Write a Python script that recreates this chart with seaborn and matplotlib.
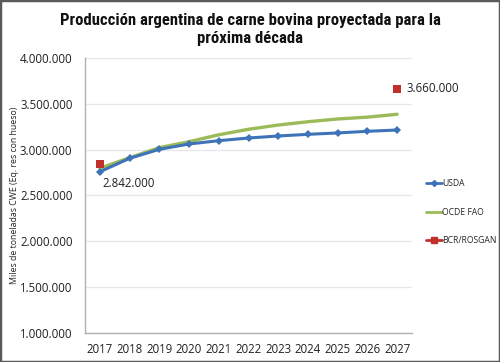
import matplotlib
matplotlib.use("Agg")
import matplotlib.pyplot as plt
from matplotlib.lines import Line2D
from matplotlib.patches import Rectangle
from matplotlib.ticker import FuncFormatter
from matplotlib import font_manager
import seaborn as sns
import pandas as pd
import numpy as np

years = [2017, 2018, 2019, 2020, 2021, 2022, 2023, 2024, 2025, 2026, 2027]
usda = [2758000, 2904000, 3002000, 3060000, 3096000, 3125000, 3147000, 3165000, 3180000, 3198000, 3212000]
ocde = [2796000, 2911000, 3020000, 3085000, 3160000, 3220000, 3266000, 3302000, 3332000, 3352000, 3383000]
bcr_years = [2017, 2027]
bcr = [2842000, 3660000]
bcr_labels = ["2.842.000", "3.660.000"]
yticks = [1000000, 1500000, 2000000, 2500000, 3000000, 3500000, 4000000]

sns.set_theme(style="white")


def pick(name, weight, want_cond):
    best = None
    for f in font_manager.fontManager.ttflist:
        if f.name != name or f.style != "normal":
            continue
        fn = f.fname.lower()
        is_cond = ("condensed" in fn) or ("narrow" in fn) or (f.stretch not in ("normal", 500))
        if is_cond != want_cond:
            continue
        w = f.weight if isinstance(f.weight, int) else (700 if "bold" in str(f.weight) else 400)
        score = abs(w - weight) + (0 if "variable" not in fn and "[" not in fn else 50)
        if best is None or score < best[0]:
            best = (score, f.fname)
    return best[1] if best else None


body_file = pick("Open Sans", 400, False)
if body_file:
    font_manager.fontManager.addfont(body_file)
    body_prop = font_manager.FontProperties(fname=body_file)
else:
    body_prop = font_manager.FontProperties(family="DejaVu Sans")

title_file = None
for nm in ["Roboto Condensed", "Open Sans", "Roboto"]:
    title_file = pick(nm, 700, True) if nm != "Roboto" else pick(nm, 700, False)
    if title_file:
        break
title_prop = font_manager.FontProperties(fname=title_file) if title_file else \
    font_manager.FontProperties(family="DejaVu Sans", weight="bold")


def fp(size):
    p = body_prop.copy()
    p.set_size(size)
    return p


fig = plt.figure(figsize=(5, 3.62), dpi=100)
ax = fig.add_axes([0.17, 0.079, 0.654, 0.762])

df = pd.DataFrame({"year": years, "USDA": usda, "OCDE FAO": ocde})
c_usda = "#3f73b9"
c_ocde = "#9bbb59"
c_bcr = "#c0302c"

sns.lineplot(data=df, x="year", y="OCDE FAO", ax=ax, color=c_ocde, linewidth=2.4, zorder=3)
sns.lineplot(data=df, x="year", y="USDA", ax=ax, color=c_usda, linewidth=2.2,
             marker="D", markersize=4, markeredgewidth=0, zorder=4)
bdf = pd.DataFrame({"year": bcr_years, "v": bcr})
sns.scatterplot(data=bdf, x="year", y="v", ax=ax, color=c_bcr, marker="s", s=38,
                edgecolor="none", zorder=5)

ax.text(2017.1, 2700000, bcr_labels[0], fontproperties=fp(8.3), va="top", ha="left", color="#222222")
ax.text(2027.3, 3660000, bcr_labels[1], fontproperties=fp(8.3), va="center", ha="left", color="#222222")

ax.set_xlim(2016.5, 2027.5)
ax.set_ylim(1000000, 4000000)
ax.set_xticks(years)
ax.set_xticklabels([str(y) for y in years])
ax.set_yticks(yticks)
ax.yaxis.set_major_formatter(FuncFormatter(lambda v, p: f"{int(v):,}".replace(",", ".")))
ax.tick_params(axis="y", colors="#222222", length=0, pad=9)
ax.tick_params(axis="x", colors="#222222", length=0, pad=7)
for lab in ax.get_xticklabels() + ax.get_yticklabels():
    lab.set_fontproperties(fp(8.3))
ax.grid(axis="y", color="#e6e6ee", linewidth=0.9)
ax.set_axisbelow(True)
for s in ["top", "right"]:
    ax.spines[s].set_visible(False)
for s in ["left", "bottom"]:
    ax.spines[s].set_color("#b0b0b0")
    ax.spines[s].set_linewidth(1.0)
ax.set_xlabel("")
ax.set_ylabel("Miles de toneladas CWE (Eq. res con hueso)", fontproperties=fp(6.3), color="#222222")
ax.yaxis.set_label_coords(-0.202, 0.5)

handles = [
    Line2D([0], [0], color=c_usda, linewidth=2, marker="D", markersize=3),
    Line2D([0], [0], color=c_ocde, linewidth=2),
    Line2D([0], [0], color=c_bcr, linewidth=2, marker="s", markersize=4),
]
leg = fig.legend(handles, ["USDA", "OCDE FAO", "BCR/ROSGAN"], loc="center left",
                 bbox_to_anchor=(0.852, 0.414), frameon=False, prop=fp(6.2),
                 handlelength=1.8, handletextpad=0.1, labelspacing=2.3,
                 borderaxespad=0, borderpad=0)

tp = title_prop.copy()
tp.set_size(12 if title_file and "ondensed" in title_file else 11)
fig.text(0.5, 0.965, "Producción argentina de carne bovina proyectada para la\npróxima década",
         ha="center", va="top", fontproperties=tp, linespacing=1.3, color="#111111")

fig.patches.append(Rectangle((0, 0), 1, 1, transform=fig.transFigure, fill=False,
                             edgecolor="#5a5a5a", linewidth=2.5, zorder=10))

fig.savefig("out.png", dpi=100)
